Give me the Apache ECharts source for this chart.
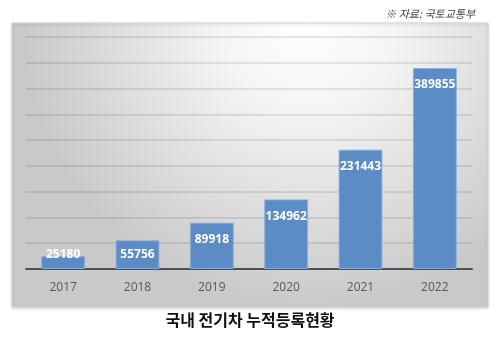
<!DOCTYPE html>
<html><head><meta charset="utf-8">
<script src="https://cdn.jsdelivr.net/npm/echarts@6/dist/echarts.min.js"></script>
<style>html,body{margin:0;padding:0;background:#fff}#c{width:500px;height:338px}</style>
</head><body><div id="c"></div>
<script>
const categories = ['2017','2018','2019','2020','2021','2022'];
const values = [25180, 55756, 89918, 134962, 231443, 389855];
const titleText = '국내 전기차 누적등록현황';
const sourceText = '※ 자료: 국토교통부';

const chart = echarts.init(document.getElementById('c'));
const yMax = 450000;
const data = values.map(v => ({
  value: v,
  label: v > 64000 ? { position: 'insideTop', distance: 11 } : { position: 'insideBottom', distance: 8 }
}));
chart.setOption({
  animation: false,
  graphic: [
    { type: 'rect', z: -10, shape: { x: 12, y: 23, width: 476, height: 284 },
      style: {
        fill: new echarts.graphic.RadialGradient(0.62, 0.0, 1.0, [
          { offset: 0, color: '#ffffff' }, { offset: 0.3, color: '#f5f5f5' }, { offset: 1, color: '#c9c9c9' }
        ]),
        stroke: '#d4d4d4', lineWidth: 1,
        shadowBlur: 3, shadowColor: 'rgba(0,0,0,0.18)', shadowOffsetY: 1
      } },
    { type: 'text', right: 25, top: 8,
      style: { text: sourceText, font: 'italic 11px "Noto Sans CJK KR", sans-serif', fill: '#404040' } },
    { type: 'text', left: 'center', top: 312,
      style: { text: titleText, font: 'bold 16px "Noto Sans CJK KR", sans-serif', fill: '#111' } }
  ],
  grid: { left: 26, right: 28, top: 37, bottom: 69 },
  xAxis: {
    type: 'category', data: categories,
    axisTick: { show: false },
    axisLine: { lineStyle: { color: '#505050', width: 2 } },
    axisLabel: { color: '#595959', fontSize: 12, fontFamily: '"Open Sans", sans-serif', margin: 13 }
  },
  yAxis: {
    type: 'value', min: 0, max: yMax, interval: 50000,
    axisLabel: { show: false }, axisLine: { show: false }, axisTick: { show: false },
    splitLine: { lineStyle: { color: 'rgba(0,0,0,0.13)', width: 1.5 } }
  },
  series: [{
    type: 'bar', data: data, barWidth: '59%',
    itemStyle: { color: '#5c8cc6', borderColor: 'rgba(140,175,220,0.9)', borderWidth: 1 },
    label: { show: true, color: '#fff', fontWeight: 'bold', fontSize: 12,
      fontFamily: '"Open Sans", sans-serif' }
  }]
});
</script></body></html>
